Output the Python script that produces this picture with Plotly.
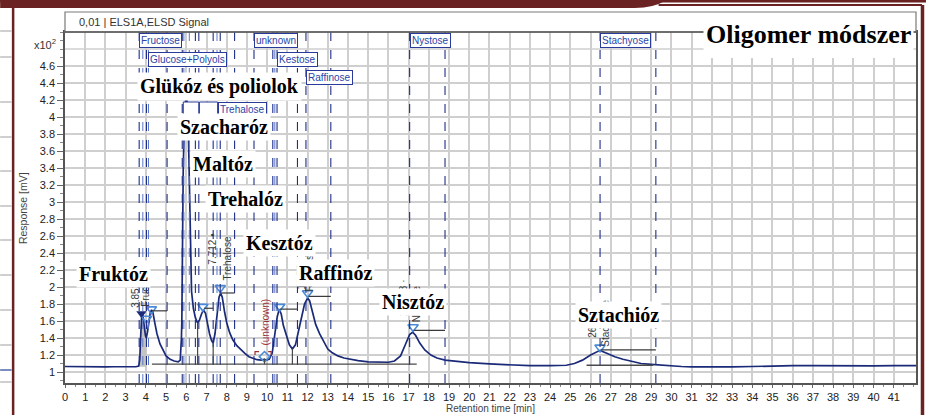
import plotly.graph_objects as go

# ---------------- data ----------------
time_min = [0.0, 0.4, 0.8, 1.2, 1.6, 2.0, 2.4, 2.8, 3.2, 3.5, 3.65, 3.7, 3.73, 3.76, 3.8, 3.84,
            3.88, 3.93, 3.98, 4.02, 4.08, 4.15, 4.22, 4.28, 4.35, 4.45, 4.55, 4.7, 4.85, 5.0,
            5.2, 5.4, 5.6, 5.7, 5.76, 5.78, 5.81, 5.85, 5.92, 6.0, 6.08, 6.13, 6.17, 6.2, 6.26,
            6.35, 6.45, 6.55, 6.65, 6.75, 6.85, 6.95, 7.05, 7.15, 7.25, 7.33, 7.42, 7.52, 7.62,
            7.7, 7.78, 7.9, 8.0, 8.15, 8.3, 8.5, 8.7, 8.9, 9.1, 9.3, 9.5, 9.7, 9.85, 9.95, 10.1,
            10.25, 10.4, 10.5, 10.6, 10.7, 10.8, 10.95, 11.1, 11.25, 11.4, 11.55, 11.7, 11.85,
            12.0, 12.1, 12.25, 12.4, 12.6, 12.8, 13.0, 13.2, 13.5, 13.8, 14.1, 14.5, 15.0, 15.5,
            16.0, 16.3, 16.6, 16.85, 17.05, 17.2, 17.35, 17.55, 17.8, 18.1, 18.4, 18.8, 19.3,
            20.0, 21.0, 22.0, 23.0, 24.0, 24.8, 25.2, 25.6, 26.0, 26.47, 26.8, 27.2, 27.6, 28.0,
            28.5, 29.0, 29.5, 30.0, 30.5, 31.0, 32.0, 33.0, 34.0, 35.0, 36.0, 37.0, 38.0, 39.0,
            40.0, 41.0, 42.1]
response = [1.065, 1.063, 1.062, 1.060, 1.061, 1.060, 1.062, 1.061, 1.060, 1.062, 1.07, 1.15,
            1.35, 1.58, 1.69, 1.70, 1.64, 1.52, 1.43, 1.40, 1.47, 1.60, 1.70, 1.73, 1.70, 1.57,
            1.45, 1.33, 1.25, 1.19, 1.15, 1.13, 1.12, 1.14, 1.40, 1.60, 2.40, 3.40, 4.10, 4.25,
            4.10, 3.50, 2.80, 2.30, 1.95, 1.75, 1.64, 1.58, 1.61, 1.68, 1.73, 1.69, 1.56, 1.45,
            1.37, 1.34, 1.45, 1.70, 1.88, 1.93, 1.88, 1.70, 1.58, 1.46, 1.38, 1.31, 1.26, 1.22,
            1.18, 1.16, 1.145, 1.14, 1.15, 1.14, 1.15, 1.22, 1.45, 1.65, 1.74, 1.68, 1.55, 1.42,
            1.32, 1.27, 1.32, 1.48, 1.66, 1.80, 1.87, 1.84, 1.70, 1.56, 1.45, 1.35, 1.27, 1.23,
            1.19, 1.165, 1.15, 1.135, 1.12, 1.115, 1.115, 1.13, 1.19, 1.33, 1.44, 1.47, 1.43,
            1.34, 1.26, 1.20, 1.165, 1.14, 1.125, 1.11, 1.095, 1.085, 1.075, 1.075, 1.08, 1.10,
            1.14, 1.20, 1.255, 1.22, 1.18, 1.15, 1.125, 1.10, 1.09, 1.08, 1.075, 1.065, 1.06,
            1.058, 1.06, 1.065, 1.072, 1.075, 1.075, 1.072, 1.07, 1.072, 1.075, 1.075]

# peak markers
marker_t = [4.03, 4.27, 6.82, 7.68, 10.62, 12.0, 17.22, 26.47]
marker_r = [1.63, 1.74, 1.77, 1.99, 1.77, 1.93, 1.53, 1.29]
first_marker_t, first_marker_r = [3.78], [1.69]
unknown_t, unknown_r = [9.87], [1.18]

# fructose shaded integration area
fill_from, fill_to, fill_base = 3.68, 4.05, 1.062

# peak window dashed lines
window_dark = [3.67, 4.03, 5.05, 5.8, 6.45, 6.62, 7.33, 7.68, 8.39, 9.35, 10.28, 10.49,
               11.5, 11.92, 13.15, 17.05, 18.8, 26.47, 29.23]
window_light = [3.85, 4.13, 5.88, 6.15, 7.52, 10.38]

# peak name boxes: name, window start (min)
box_names = ["Fructose", "Glucose+Polyols", "unknown", "Kestose", "Raffinose", "Nystose",
             "Stachyose", "Trehalose"]
box_start = [3.67, 4.12, 9.35, 10.49, 11.92, 17.05, 26.47, 7.55]
box_row = [0, 1, 0, 1, 2, 0, 0, 3]
# partly hidden window boxes without readable text (start, end)
hidden_box_start = [5.85, 6.65]
hidden_box_end = [6.62, 7.55]

# integration brackets (start, end, level)
bracket_start = [4.3, 6.88, 7.72, 10.64, 12.05, 17.25, 26.5]
bracket_end = [5.05, 7.33, 8.39, 11.5, 13.15, 18.8, 29.23]
bracket_level = [1.72, 1.75, 1.93, 1.74, 1.89, 1.49, 1.26]

# baselines (start, end, level) and drop lines (time, top)
base_start = [4.3, 25.8]
base_end = [17.4, 29.1]
base_level = [1.092, 1.08]
drop_t = [6.56, 7.33, 9.87, 11.25]
drop_top = [1.58, 1.34, 1.16, 1.27]

# rotated peak labels
peak_tags = ["3.852", "Fructose", "7.712 •", "Trehalose", "(unknown)", "12.04", "Raffinose",
             "17.183 ·", "Nystose", "26.45 ·", "Stachyose"]

# hungarian labels
hu_labels = ["Glükóz és poliolok", "Szacharóz", "Maltóz", "Trehalóz", "Kesztóz", "Raffinóz",
             "Fruktóz", "Nisztóz", "Sztachióz"]
x_ticks = list(range(0, 42))
y_ticks = [1.0, 1.2, 1.4, 1.6, 1.8, 2.0, 2.2, 2.4, 2.6, 2.8, 3.0, 3.2, 3.4, 3.6, 3.8, 4.0,
           4.2, 4.4, 4.6]
y_ticktext = ["1", "1.2", "1.4", "1.6", "1.8", "2", "2.2", "2.4", "2.6", "2.8", "3", "3.2",
              "3.4", "3.6", "3.8", "4", "4.2", "4.4", "4.6"]
y_extra_grid = [4.8]

# ---------------- layout geometry ----------------
W, H = 928, 415
L, R, T, B = 65, 918, 32, 383


def px(x):
    return (x - L) / (R - L)


def py(y):
    return (B - y) / (B - T)


NAVY = "#1b2a78"
SANS = "Liberation Sans, Arial, sans-serif"
SERIF = "Liberation Serif, Times New Roman, serif"

fig = go.Figure()

# shaded fructose area
ft = [t for t in time_min if fill_from <= t <= fill_to]
fr = [r for t, r in zip(time_min, response) if fill_from <= t <= fill_to]
fig.add_trace(go.Scatter(x=ft + ft[::-1], y=fr[::1] + [fill_base] * len(ft), fill="toself",
                         fillcolor="#c4c4c4", line=dict(width=0), mode="lines",
                         hoverinfo="skip"))

# chromatogram
fig.add_trace(go.Scatter(x=time_min, y=response, mode="lines",
                         line=dict(color=NAVY, width=1.7), hoverinfo="skip"))

# markers
fig.add_trace(go.Scatter(x=marker_t, y=marker_r, mode="markers",
                         marker=dict(symbol="triangle-down-open", size=9,
                                     line=dict(color="#4a8ad6", width=1.6), color="#4a8ad6")))
fig.add_trace(go.Scatter(x=first_marker_t, y=first_marker_r, mode="markers",
                         marker=dict(symbol="triangle-down", size=9, color="#1b2a78")))
fig.add_trace(go.Scatter(x=unknown_t, y=unknown_r, mode="markers",
                         marker=dict(symbol="diamond-open", size=8,
                                     line=dict(color="#4a8ad6", width=1.6), color="#4a8ad6")))

shapes = []
# extra grid line
for g in y_extra_grid:
    shapes.append(dict(type="line", xref="paper", yref="y", x0=0, x1=1, y0=g, y1=g,
                       line=dict(color="#cfcfcf", width=1.5), layer="below"))
# dashed window lines
for t in window_light:
    shapes.append(dict(type="line", xref="x", yref="paper", x0=t, x1=t, y0=0, y1=1,
                       line=dict(color="#5a78c8", width=1, dash="dash"), layer="above"))
for t in window_dark:
    shapes.append(dict(type="line", xref="x", yref="paper", x0=t, x1=t, y0=0, y1=1,
                       line=dict(color="#1f2f88", width=1.1, dash="dash"), layer="above"))
# brackets
for s, e, lv in zip(bracket_start, bracket_end, bracket_level):
    shapes.append(dict(type="line", xref="x", yref="y", x0=s, x1=e, y0=lv, y1=lv,
                       line=dict(color="#3a3a3a", width=1.2), layer="above"))
# baselines
for s, e, lv in zip(base_start, base_end, base_level):
    shapes.append(dict(type="line", xref="x", yref="y", x0=s, x1=e, y0=lv, y1=lv,
                       line=dict(color="#4a4a4a", width=1.3), layer="above"))
for t, top in zip(drop_t, drop_top):
    shapes.append(dict(type="line", xref="x", yref="y", x0=t, x1=t, y0=1.09, y1=top,
                       line=dict(color="#4a4a4a", width=1.2), layer="above"))
# unknown small red bracket
shapes.append(dict(type="path", xref="x", yref="y",
                   path="M 9.4,1.2 L 9.4,1.24 L 9.6,1.24 M 10.05,1.24 L 10.2,1.24 L 10.2,1.2",
                   line=dict(color="#a03030", width=1.2), layer="above"))
# partly hidden boxes
for s, e in zip(hidden_box_start, hidden_box_end):
    shapes.append(dict(type="rect", xref="x", yref="paper", x0=s, x1=e, y0=py(116),
                       y1=py(102), fillcolor="white", line=dict(color="#2a3a9a", width=1),
                       layer="above"))

# header box
shapes.append(dict(type="rect", xref="paper", yref="paper", x0=0, x1=1, y0=1, y1=py(12),
                   line=dict(color="#7a7a7a", width=1.2), fillcolor="white", layer="above"))
shapes.append(dict(type="line", xref="paper", yref="paper", x0=0, x1=1, y0=1, y1=1,
                   line=dict(color="#555", width=1.6), layer="above"))

# page decorations (maroon frame, neighbouring panel)
MAROON = "#6a2222"
shapes.append(dict(type="path", xref="paper", yref="paper",
                   path=f"M {px(0)},{py(0)} L {px(668)},{py(0)} Q {px(655)},{py(8)} {px(636)},{py(8)} "
                        f"L {px(0)},{py(8)} Z",
                   fillcolor=MAROON, line=dict(width=0), layer="above"))
shapes.append(dict(type="rect", xref="paper", yref="paper", x0=px(0), x1=px(928), y0=py(0),
                   y1=py(2.5), fillcolor=MAROON, line=dict(width=0), layer="above"))
shapes.append(dict(type="line", xref="paper", yref="paper", x0=px(660), x1=px(924),
                   y0=py(5), y1=py(5), line=dict(color=MAROON, width=2), layer="above"))
shapes.append(dict(type="line", xref="paper", yref="paper", x0=px(924.5), x1=px(924.5),
                   y0=py(5), y1=py(415), line=dict(color=MAROON, width=3.5), layer="above"))
shapes.append(dict(type="line", xref="paper", yref="paper", x0=px(13), x1=px(13),
                   y0=py(7), y1=py(415), line=dict(color=MAROON, width=2.5), layer="above"))
for yy in [31, 57, 102, 137, 171, 206, 240, 275, 310, 345, 382]:
    shapes.append(dict(type="line", xref="paper", yref="paper", x0=px(0), x1=px(11.5),
                       y0=py(yy), y1=py(yy), line=dict(color="#b5b5b5", width=1.3),
                       layer="above"))
shapes.append(dict(type="line", xref="paper", yref="paper", x0=px(0), x1=px(11.5),
                   y0=py(370), y1=py(370), line=dict(color="#3050a0", width=1.3), layer="above"))

annotations = []
# peak name boxes
row_top = [33, 52, 70, 102]
for name, start, row in zip(box_names, box_start, box_row):
    annotations.append(dict(text=name, xref="x", yref="paper", x=start, y=py(row_top[row]),
                            xanchor="left", yanchor="top", showarrow=False,
                            font=dict(family=SANS, size=10, color="#2a44a8"),
                            bgcolor="white", bordercolor="#2a3a9a", borderwidth=1,
                            borderpad=1))

# rotated peak tags (x pixel, y pixel centre)
tag_pos = [(135, 295), (145, 287), (212, 249), (227, 258), (265, 322), (302, 277), (310, 270),
           (404, 298), (417, 304), (593, 322), (606, 323)]
for txt, (xx, yy) in zip(peak_tags, tag_pos):
    col = "#a03030" if txt.startswith("(") else "#3a3a3a"
    annotations.append(dict(text=txt, xref="paper", yref="paper", x=px(xx), y=py(yy),
                            xanchor="center", yanchor="middle", textangle=-90, showarrow=False,
                            font=dict(family=SANS, size=10, color=col)))

# axis texts
annotations += [
    dict(text="0,01 | ELS1A,ELSD Signal", xref="paper", yref="paper", x=px(77), y=py(22),
         xanchor="left", yanchor="middle", showarrow=False,
         font=dict(family=SANS, size=11, color="#333")),
    dict(text="x10<sup>2</sup>", xref="paper", yref="paper", x=px(58), y=py(44),
         xanchor="right", yanchor="middle", showarrow=False,
         font=dict(family=SANS, size=11, color="#333")),
    dict(text="Response [mV]", xref="paper", yref="paper", x=px(23), y=py(208),
         xanchor="center", yanchor="middle", textangle=-90, showarrow=False,
         font=dict(family=SANS, size=10.5, color="#444")),
    dict(text="Retention time [min]", xref="paper", yref="paper", x=px(492), y=py(408),
         xanchor="center", yanchor="middle", showarrow=False,
         font=dict(family=SANS, size=10, color="#444")),
]

# big hungarian labels
hu_pos = [(220, 86), (224, 127), (223, 164), (246, 199), (280, 243), (336, 273), (114, 274),
          (414, 302), (620, 315)]
for txt, (xx, yy) in zip(hu_labels, hu_pos):
    annotations.append(dict(text=f"<b>{txt}</b>", xref="paper", yref="paper", x=px(xx),
                            y=py(yy), xanchor="center", yanchor="middle", showarrow=False,
                            font=dict(family=SERIF, size=20, color="black"),
                            bgcolor="white", borderpad=2))
annotations.append(dict(text="<b>Oligomer módszer</b>", xref="paper", yref="paper", x=px(810),
                        y=py(34), xanchor="center", yanchor="middle", showarrow=False,
                        font=dict(family=SERIF, size=26, color="black"),
                        bgcolor="white", borderpad=2))
# white cover under the title (grid lines hidden there in the reference)
shapes.append(dict(type="rect", xref="paper", yref="paper", x0=px(707), x1=px(914),
                   y0=py(58), y1=py(33), fillcolor="white", line=dict(width=0),
                   layer="above"))

fig.update_layout(
    width=W, height=H, margin=dict(l=L, r=W - R, t=T, b=H - B),
    paper_bgcolor="white", plot_bgcolor="white", showlegend=False, hovermode=False,
    shapes=shapes, annotations=annotations,
    xaxis=dict(range=[0, 42.1], tickvals=x_ticks, showgrid=True, gridcolor="#cfcfcf",
               gridwidth=1.5, zeroline=False, showline=True, linecolor="#555", linewidth=1.5,
               mirror=True, ticks="outside", ticklen=3, tickcolor="#666",
               tickfont=dict(family=SANS, size=11, color="#222"),
               minor=dict(dtick=0.5, ticks="outside", ticklen=2, tickcolor="#888",
                          showgrid=False)),
    yaxis=dict(range=[0.871, 5.0], tickvals=y_ticks, ticktext=y_ticktext,
               showgrid=True, gridcolor="#cfcfcf", gridwidth=1.5, zeroline=False,
               showline=True, linecolor="#555", linewidth=1.5, mirror=True,
               ticks="outside", ticklen=6, tickcolor="#666",
               tickfont=dict(family=SANS, size=11, color="#222"),
               minor=dict(dtick=0.1, ticks="outside", ticklen=3, tickcolor="#888",
                          showgrid=False)),
)

fig.write_html("out.html")
